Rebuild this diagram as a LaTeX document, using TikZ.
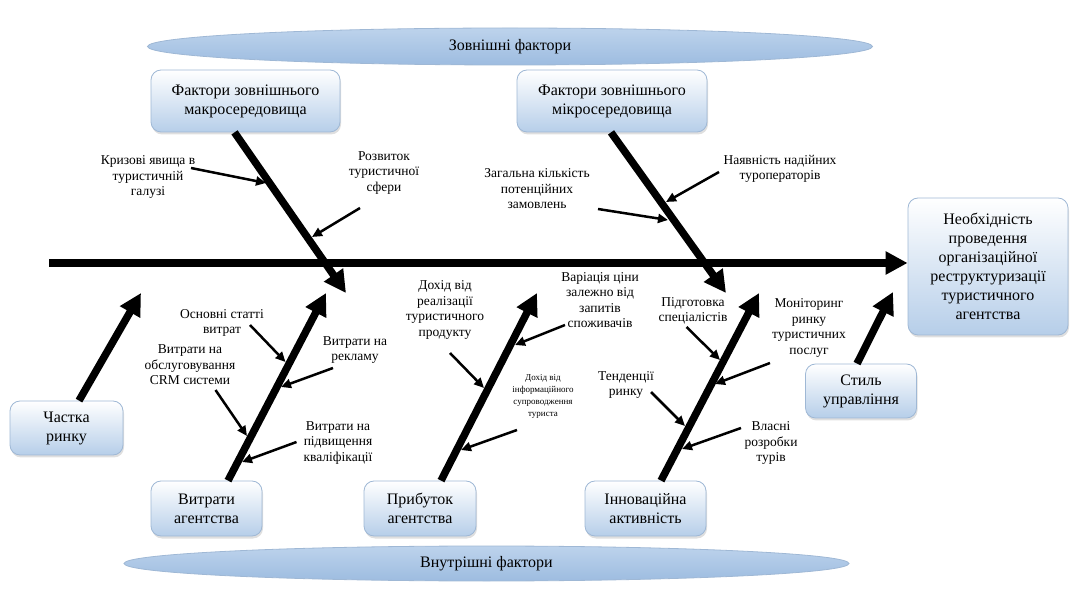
\documentclass[tikz,border=0pt]{standalone}
\usepackage{fontspec}
\setmainfont{Liberation Serif}
\usepackage{tikz}
\usetikzlibrary{arrows.meta}
\usetikzlibrary{shapes.geometric}
\usetikzlibrary{shadows}

\definecolor{boxbot}{HTML}{B6CEE9}
\definecolor{boxline}{HTML}{9FB8D5}
\definecolor{elltop}{HTML}{BDD3EC}
\definecolor{ellmid}{HTML}{E2ECF7}
\definecolor{ellbot}{HTML}{9DBCE0}

\tikzset{
	factor/.style={draw=boxline, line width=0.8pt, rounded corners=10pt, top color=white, bottom color=boxbot,
		align=center, inner sep=2pt, font=\fontsize{16}{19}\selectfont,
		drop shadow={opacity=0.25, shadow xshift=1pt, shadow yshift=-2.5pt}},
	group/.style={ellipse, draw=boxline, line width=0.8pt, top color=elltop, middle color=ellmid, bottom color=ellbot,
		inner sep=0pt, font=\fontsize{16}{19}\selectfont},
	cause/.style={align=center, inner sep=0pt, font=\fontsize{13.5}{15.5}\selectfont},
	smallcause/.style={align=center, inner sep=0pt, font=\fontsize{9}{12}\selectfont},
	bone/.style={line width=7.5pt, -{Triangle[length=22pt,width=22pt]}},
	twig/.style={line width=2.5pt, -{Triangle[length=10pt,width=9pt]}}
}

\begin{document}
\begin{tikzpicture}[x=1pt, y=-1pt]

	\useasboundingbox (0,0) rectangle (1082,593);

	% groups
	\node[group, minimum width=725pt, minimum height=37pt] (outer) at (510,46.5) {Зовнішні фактори};
	\node[group, minimum width=725pt, minimum height=35pt] (inner) at (486.5,563.5) {Внутрішні фактори};

	% factor boxes
	\node[factor, minimum width=189pt, minimum height=62pt] (macro) at (245.5,101) {Фактори зовнішнього\\макросередовища};
	\node[factor, minimum width=190pt, minimum height=62pt] (micro) at (612,101) {Фактори зовнішнього\\мікросередовища};
	\node[factor, minimum width=160pt, minimum height=137pt] (result) at (988,266.5) {Необхідність\\проведення\\організаційної\\реструктуризації\\туристичного\\агентства};
	\node[factor, minimum width=113pt, minimum height=54pt] (share) at (66.5,428) {Частка\\ринку};
	\node[factor, minimum width=111pt, minimum height=55pt] (costs) at (206.5,508.5) {Витрати\\агентства};
	\node[factor, minimum width=112pt, minimum height=55pt] (profit) at (420,508.5) {Прибуток\\агентства};
	\node[factor, minimum width=121pt, minimum height=55pt] (innov) at (645.5,508.5) {Інноваційна\\активність};
	\node[factor, minimum width=111pt, minimum height=54pt] (style) at (861,391) {Стиль\\управління};

	% spine and bones
	\coordinate (spine) at (49,263);
	\coordinate (macrotip) at (346,293);
	\coordinate (microtip) at (726,293);
	\coordinate (sharetip) at (141,293);
	\coordinate (coststip) at (326,293);
	\coordinate (profittip) at (537,293);
	\coordinate (innovtip) at (759,293);
	\coordinate (styletip) at (893,292);

	\draw[bone] (spine) -- (spine -| result.west);
	\draw[bone] ([xshift=-11pt]macro.south) -- (macrotip);
	\draw[bone] ([xshift=-1pt]micro.south) -- (microtip);
	\draw[bone] ([xshift=12.5pt]share.north) -- (sharetip);
	\draw[bone] ([xshift=21.5pt]costs.north) -- (coststip);
	\draw[bone] ([xshift=21pt]profit.north) -- (profittip);
	\draw[bone] ([xshift=15.5pt]innov.north) -- (innovtip);
	\draw[bone] ([xshift=-4pt]style.north) -- (styletip);

	% causes
	\node[cause] (crisis) at (148,177) {Кризові явища в\\туристичній\\галузі};
	\node[cause] (growth) at (384,173) {Розвиток\\туристичної\\сфери};
	\node[cause] (orders) at (537,189) {Загальна кількість\\потенційних\\замовлень};
	\node[cause] (operators) at (780,169) {Наявність надійних\\туроператорів};
	\node[cause] (items) at (222,323) {Основні статті\\витрат};
	\node[cause] (advert) at (355,350) {Витрати на\\рекламу};
	\node[cause] (crm) at (190,365) {Витрати на\\обслуговування\\CRM системи};
	\node[cause] (training) at (338,443) {Витрати на\\підвищення\\кваліфікації};
	\node[cause] (sales) at (445,310) {Дохід від\\реалізації\\туристичного\\продукту};
	\node[cause] (price) at (600,300) {Варіація ціни\\залежно від\\запитів\\споживачів};
	\node[smallcause] (info) at (543,396) {Дохід від\\інформаційного\\супроводження\\туриста};
	\node[cause] (staff) at (693,311) {Підготовка\\спеціалістів};
	\node[cause] (monitor) at (809,328) {Моніторинг\\ринку\\туристичних\\послуг};
	\node[cause] (trends) at (626,385) {Тенденції\\ринку};
	\node[cause] (tours) at (771,443) {Власні\\розробки\\турів};

	% twigs
	\coordinate (crisisfrom) at (191,168);
	\coordinate (crisisto) at (266,183);
	\coordinate (growthfrom) at (360,208);
	\coordinate (growthto) at (312,237);
	\coordinate (ordersfrom) at (598,209);
	\coordinate (ordersto) at (668,220);
	\coordinate (operatorsfrom) at (719,172);
	\coordinate (operatorsto) at (666,202);
	\coordinate (itemsfrom) at (250,325);
	\coordinate (itemsto) at (285.5,362);
	\coordinate (advertfrom) at (333,368);
	\coordinate (advertto) at (281,387);
	\coordinate (crmfrom) at (215.5,390);
	\coordinate (crmto) at (247,436);
	\coordinate (trainingfrom) at (296.5,442);
	\coordinate (trainingto) at (242,462);
	\coordinate (salesfrom) at (450,353);
	\coordinate (salesto) at (484,388);
	\coordinate (pricefrom) at (565,325);
	\coordinate (priceto) at (515,345);
	\coordinate (infofrom) at (517,430);
	\coordinate (infoto) at (461,450);
	\coordinate (stafffrom) at (686.5,327);
	\coordinate (staffto) at (720,360);
	\coordinate (monitorfrom) at (770,363);
	\coordinate (monitorto) at (715,384);
	\coordinate (trendsfrom) at (651,392);
	\coordinate (trendsto) at (685,426);
	\coordinate (toursfrom) at (741,428);
	\coordinate (toursto) at (682,449);

	\draw[twig] (crisisfrom) -- (crisisto);
	\draw[twig] (growthfrom) -- (growthto);
	\draw[twig] (ordersfrom) -- (ordersto);
	\draw[twig] (operatorsfrom) -- (operatorsto);
	\draw[twig] (itemsfrom) -- (itemsto);
	\draw[twig] (advertfrom) -- (advertto);
	\draw[twig] (crmfrom) -- (crmto);
	\draw[twig] (trainingfrom) -- (trainingto);
	\draw[twig] (salesfrom) -- (salesto);
	\draw[twig] (pricefrom) -- (priceto);
	\draw[twig] (infofrom) -- (infoto);
	\draw[twig] (stafffrom) -- (staffto);
	\draw[twig] (monitorfrom) -- (monitorto);
	\draw[twig] (trendsfrom) -- (trendsto);
	\draw[twig] (toursfrom) -- (toursto);

\end{tikzpicture}
\end{document}
